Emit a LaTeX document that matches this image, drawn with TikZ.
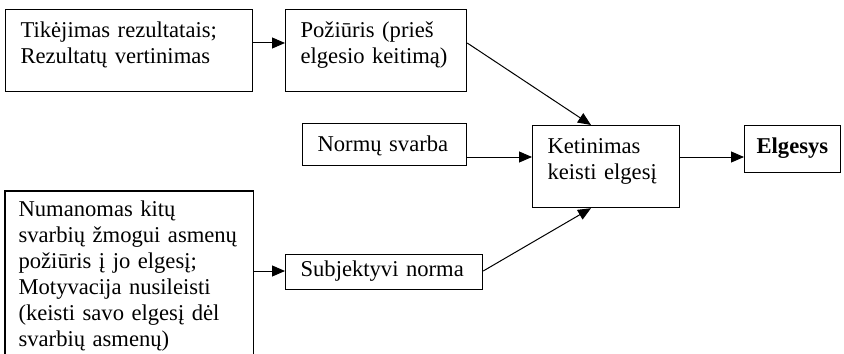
\documentclass[tikz,border=0pt]{standalone}
\usepackage{fontspec}
\setmainfont{Liberation Serif}
\usetikzlibrary{arrows.meta}
\begin{document}
\begin{tikzpicture}[x=0.5pt,y=-0.5pt,
  box/.style={draw, line width=0.6pt, anchor=north west, align=left,
    inner xsep=7.5pt, inner ysep=0pt, text height=14pt,
    font=\fontsize{11.3pt}{13pt}\selectfont,
    execute at begin node={\hyphenpenalty=10000\exhyphenpenalty=10000}},
  arr/.style={line width=0.5pt, -{Triangle[length=6.5pt,width=5.5pt]}}]
\useasboundingbox (0,0) rectangle (844,353);

% upper row
\node[box, text width=108.5pt, text depth=27pt] (tik) at (5,9)
  {Tikėjimas rezultatais;\\Rezultatų vertinimas};
\node[box, text width=75.5pt, text depth=27pt] (poz) at (285,9)
  {Požiūris (prieš\\elgesio keitimą)};

% middle row
\node[box, text width=67pt, text depth=7pt] (norm) at (302,123)
  {Normų svarba};
\node[box, text width=58.5pt, text depth=27pt] (ket) at (532,125)
  {Ketinimas\\keisti elgesį};
\node[box, inner xsep=6pt, text width=36pt, text depth=9.5pt] (elg) at (744,125)
  {\textbf{Elgesys}};

% lower row: the left box runs past the bottom edge
\node[box, draw=none, inner xsep=6.5pt, text height=12.5pt, text width=110.5pt, text depth=150pt] (num) at (5,191)
  {Numanomas kitų\\svarbių žmogui asmenų\\požiūris į jo elgesį;\\Motyvacija nusileisti\\(keisti savo elgesį dėl\\svarbių asmenų)};
\draw[line width=0.6pt] (num.south west) -- (num.north west) -- (num.north east) -- (num.south east);
\node[box, text height=11pt, text width=83.5pt, text depth=6.5pt] (subj) at (285,254)
  {Subjektyvi norma};

% arrow levels and entry points
\coordinate (ytop) at (0,43);
\coordinate (ymid) at (0,157);
\coordinate (ylow) at (0,271);
\coordinate (kin) at (591,0);

\draw[arr] (tik.east |- ytop) -- (poz.west |- ytop);
\draw[arr] (poz.east |- ytop) -- (ket.north -| kin);
\draw[arr] (norm.east |- ymid) -- (ket.west |- ymid);
\draw[arr] (ket.east |- ymid) -- (elg.west |- ymid);
\draw[arr] (num.east |- ylow) -- (subj.west |- ylow);
\draw[arr] (subj.east |- ylow) -- (ket.south -| kin);
\end{tikzpicture}
\end{document}
